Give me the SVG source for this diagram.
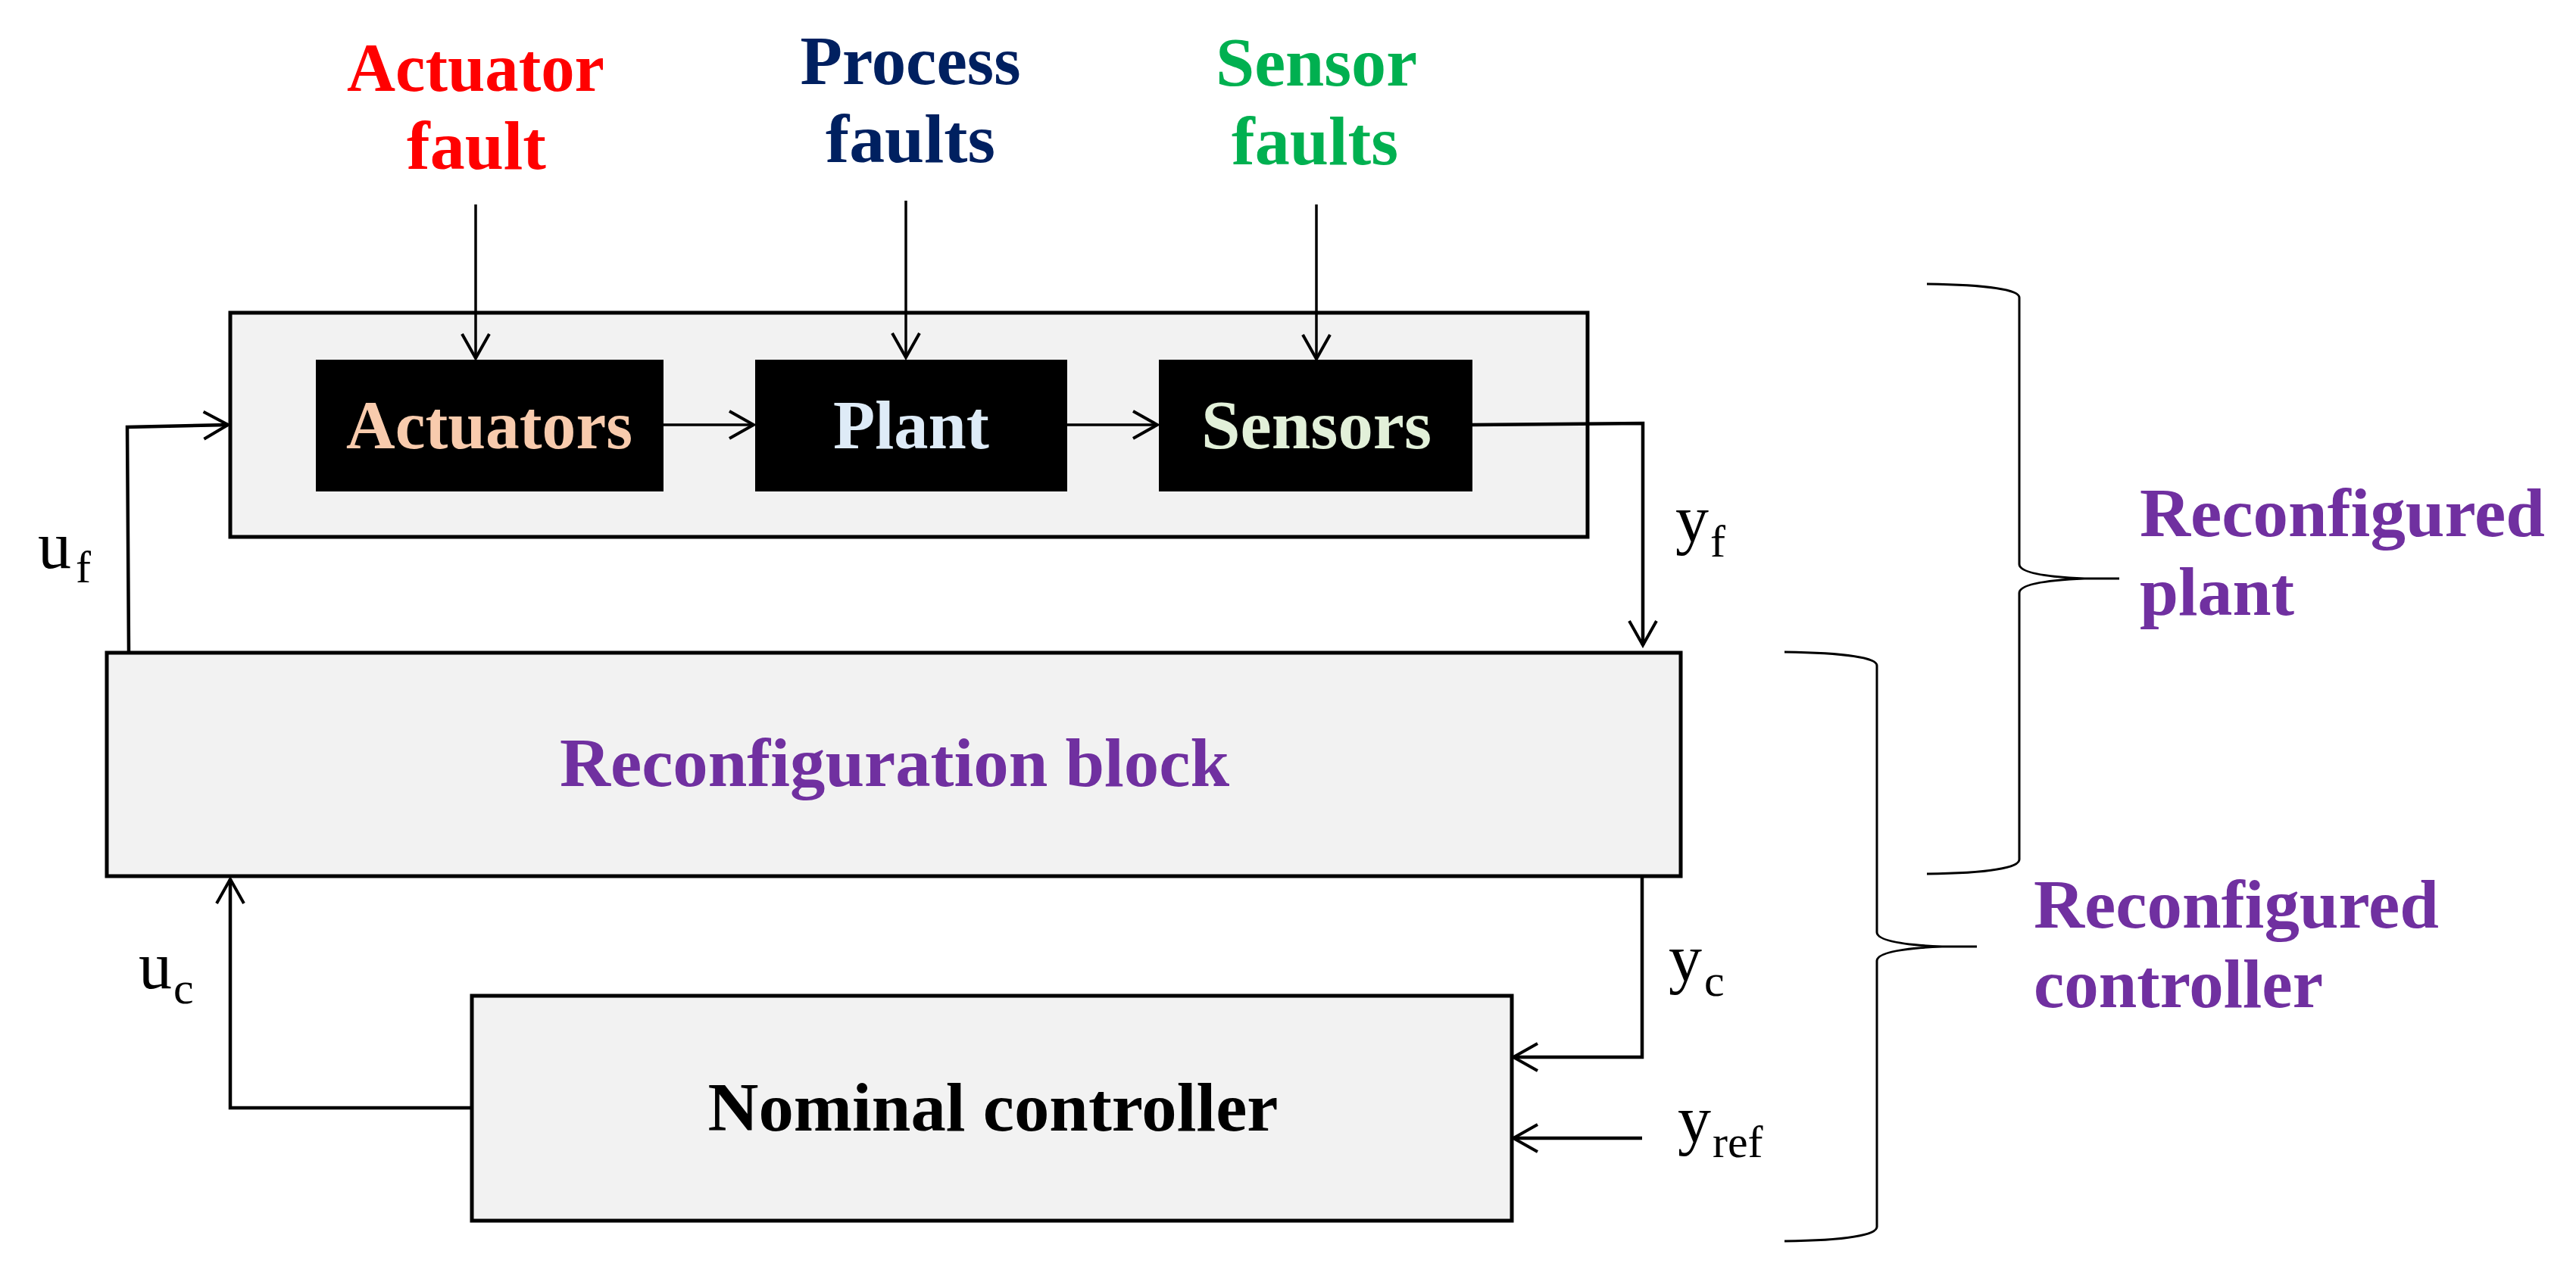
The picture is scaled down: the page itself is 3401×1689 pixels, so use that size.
<svg xmlns="http://www.w3.org/2000/svg" width="3401" height="1689" viewBox="0 0 3401 1689">
<defs>
<style>
.bold{font-family:"Liberation Serif","Times New Roman",serif;font-weight:bold;font-size:90px}
.reg{font-family:"Liberation Serif","Times New Roman",serif;font-size:88px;fill:#000}
.sub{font-size:60px}
.box{fill:#F2F2F2;stroke:#000;stroke-width:5}
.blk{fill:#000}
.ln{fill:none;stroke:#000;stroke-width:4.5}
.thin{fill:none;stroke:#000;stroke-width:3.5}
.brace{fill:none;stroke:#000;stroke-width:3}
</style>
<marker id="arr" markerUnits="userSpaceOnUse" markerWidth="40" markerHeight="44" viewBox="-36 -22 40 44" refX="0" refY="0" orient="auto">
<path d="M-32,-18 L0,0 L-32,18" fill="none" stroke="#000" stroke-width="4"/>
</marker>
</defs>
<rect width="3401" height="1689" fill="#fff"/>

<g id="fault-labels">
<text class="bold" fill="#FF0000" x="628" y="120" text-anchor="middle" textLength="340" lengthAdjust="spacingAndGlyphs">Actuator</text>
<text class="bold" fill="#FF0000" x="629" y="223" text-anchor="middle" textLength="184" lengthAdjust="spacingAndGlyphs">fault</text>
<text class="bold" fill="#002060" x="1202" y="111" text-anchor="middle" textLength="291" lengthAdjust="spacingAndGlyphs">Process</text>
<text class="bold" fill="#002060" x="1202" y="214" text-anchor="middle" textLength="224" lengthAdjust="spacingAndGlyphs">faults</text>
<text class="bold" fill="#00B050" x="1738" y="113" text-anchor="middle" textLength="266" lengthAdjust="spacingAndGlyphs">Sensor</text>
<text class="bold" fill="#00B050" x="1736" y="217" text-anchor="middle" textLength="220" lengthAdjust="spacingAndGlyphs">faults</text>
</g>

<g id="plant-system">
<rect class="box" x="304" y="413" width="1792" height="296"/>
</g>
<g id="actuators">
<rect class="blk" x="417" y="475" width="459" height="174"/>
<text class="bold" fill="#F8CBAD" x="646" y="592" text-anchor="middle" textLength="378" lengthAdjust="spacingAndGlyphs">Actuators</text>
</g>
<g id="plant">
<rect class="blk" x="997" y="475" width="412" height="174"/>
<text class="bold" fill="#DEEBF7" x="1203" y="592" text-anchor="middle" textLength="206" lengthAdjust="spacingAndGlyphs">Plant</text>
</g>
<g id="sensors">
<rect class="blk" x="1530" y="475" width="414" height="174"/>
<text class="bold" fill="#E2F0D9" x="1738" y="592" text-anchor="middle" textLength="304" lengthAdjust="spacingAndGlyphs">Sensors</text>
</g>
<g id="reconfiguration-block">
<rect class="box" x="141" y="862" width="2078" height="295"/>
<text class="bold" fill="#7030A0" x="1181" y="1038" text-anchor="middle" textLength="884" lengthAdjust="spacingAndGlyphs">Reconfiguration block</text>
</g>
<g id="nominal-controller">
<rect class="box" x="623" y="1315" width="1373" height="297"/>
<text class="bold" fill="#000" x="1311" y="1493" text-anchor="middle" textLength="753" lengthAdjust="spacingAndGlyphs">Nominal controller</text>
</g>

<g id="connectors">
<line class="thin" x1="628" y1="270" x2="628" y2="473" marker-end="url(#arr)"/>
<line class="thin" x1="1196" y1="265" x2="1196" y2="472" marker-end="url(#arr)"/>
<line class="thin" x1="1738" y1="270" x2="1738" y2="474" marker-end="url(#arr)"/>
<line class="thin" x1="876" y1="561" x2="995" y2="561" marker-end="url(#arr)"/>
<line class="thin" x1="1409" y1="561" x2="1528" y2="561" marker-end="url(#arr)"/>
<polyline class="ln" points="170,860 168,564 301,561" marker-end="url(#arr)"/>
<polyline class="ln" points="1944,561 2169,559 2169,852" marker-end="url(#arr)"/>
<polyline class="ln" points="2168,1157 2168,1396 1998,1396" marker-end="url(#arr)"/>
<line class="ln" x1="2168" y1="1503" x2="1998" y2="1503" stroke-width="6.5" marker-end="url(#arr)"/>
<polyline class="ln" points="623,1463 304,1463 304,1161" marker-end="url(#arr)"/>
</g>

<g id="signal-labels">
<text class="reg" x="50" y="750">u<tspan class="sub" x="100" y="769">f</tspan></text>
<text class="reg" x="183" y="1305">u<tspan class="sub" x="229" y="1325">c</tspan></text>
<text class="reg" x="2212" y="715">y<tspan class="sub" x="2258" y="735">f</tspan></text>
<text class="reg" x="2203" y="1295">y<tspan class="sub" x="2250" y="1315">c</tspan></text>
<text class="reg" x="2215" y="1508">y<tspan class="sub" x="2261" y="1528">ref</tspan></text>
</g>

<g id="brace-plant">
<path class="brace" d="M2544,375 C2625,376 2666,383 2666,393 L2666,745 C2666,757 2705,762 2752,764 L2798,764 M2752,764 C2705,766 2666,771 2666,783 L2666,1135 C2666,1146 2625,1153 2544,1154"/>
<text class="bold" fill="#7030A0" x="2825" y="708" textLength="535" lengthAdjust="spacingAndGlyphs">Reconfigured</text>
<text class="bold" fill="#7030A0" x="2825" y="812" textLength="204" lengthAdjust="spacingAndGlyphs">plant</text>
</g>
<g id="brace-controller">
<path class="brace" d="M2356,861 C2437,862 2478,869 2478,879 L2478,1231 C2478,1243 2517,1248 2564,1250 L2610,1250 M2564,1250 C2517,1252 2478,1257 2478,1269 L2478,1620 C2478,1631 2437,1638 2356,1639"/>
<text class="bold" fill="#7030A0" x="2685" y="1225" textLength="535" lengthAdjust="spacingAndGlyphs">Reconfigured</text>
<text class="bold" fill="#7030A0" x="2685" y="1330" textLength="382" lengthAdjust="spacingAndGlyphs">controller</text>
</g>
</svg>
